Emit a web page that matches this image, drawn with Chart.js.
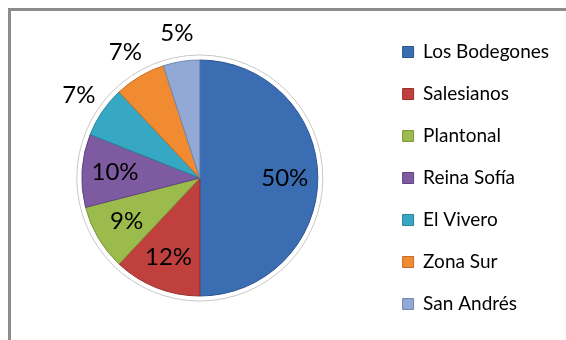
<!DOCTYPE html>
<html>
<head>
<meta charset="utf-8">
<script src="https://cdn.jsdelivr.net/npm/chart.js@4.4.1/dist/chart.umd.min.js"></script>
<style>
  html, body { margin: 0; padding: 0; background: #fff; }
  #wrap { position: relative; width: 566px; height: 340px; overflow: hidden; }
  #frame { position: absolute; left: 8px; top: 8px; width: 600px; height: 400px;
           border-top: 3px solid #8c8c8c; border-left: 3px solid #8c8c8c; }
  #mycanvas { position: absolute; left: 0; top: 0; }
</style>
</head>
<body>
<div id="wrap">
  <div id="frame"></div>
  <canvas id="mycanvas" width="566" height="340"></canvas>
</div>
<script>
var barrios = ['Los Bodegones', 'Salesianos', 'Plantonal', 'Reina Sofía', 'El Vivero', 'Zona Sur', 'San Andrés'];
var porcentajes = [50, 12, 9, 10, 7, 7, 5];
var colores = ['#3b6db3', '#c0403d', '#9bbb4c', '#7e5ba0', '#36a8c4', '#f08b32', '#92a9d5'];
var bordes = ['#2c5590', '#97302e', '#7a953a', '#5f4480', '#2a8399', '#c46d24', '#6f87b3'];

// thin grey ring round the pie
var anillo = {
  id: 'anillo',
  beforeDatasetsDraw: function(chart) {
    var arc = chart.getDatasetMeta(0).data[0];
    if (!arc) return;
    var ctx = chart.ctx;
    ctx.save();
    ctx.beginPath();
    ctx.arc(arc.x, arc.y, arc.outerRadius + 5, 0, Math.PI * 2);
    ctx.strokeStyle = '#c8c8c8';
    ctx.lineWidth = 1;
    ctx.stroke();
    ctx.restore();
  }
};

// percentage labels, inside big slices, outside small ones
var etiquetas = {
  id: 'etiquetas',
  afterDatasetsDraw: function(chart) {
    var ctx = chart.ctx;
    var meta = chart.getDatasetMeta(0);
    ctx.save();
    ctx.font = '24px Lato';
    ctx.fillStyle = '#000';
    ctx.textAlign = 'center';
    ctx.textBaseline = 'middle';
    meta.data.forEach(function(arc, i) {
      var mid = (arc.startAngle + arc.endAngle) / 2;
      var f = porcentajes[i] >= 9 ? 0.72 : 1.24;
      var x = arc.x + Math.cos(mid) * arc.outerRadius * f;
      var y = arc.y + Math.sin(mid) * arc.outerRadius * f;
      ctx.fillText(porcentajes[i] + '%', x, y);
    });
    ctx.restore();
  }
};

var chartdata = {
  labels: barrios,
  datasets: [{
    data: porcentajes,
    radius: 118,
    backgroundColor: function(c) {
      var chart = c.chart;
      var arc = chart.getDatasetMeta(0).data[c.dataIndex];
      if (!arc || !arc.outerRadius) return colores[c.dataIndex];
      var g = chart.ctx.createRadialGradient(arc.x, arc.y, 0, arc.x, arc.y, arc.outerRadius);
      g.addColorStop(0, colores[c.dataIndex]);
      g.addColorStop(0.88, colores[c.dataIndex]);
      g.addColorStop(1, bordes[c.dataIndex]);
      return g;
    },
    borderColor: bordes,
    borderWidth: 1
  }]
};

var ctx = document.getElementById('mycanvas');
var pieGraph = new Chart(ctx, {
  type: 'pie',
  data: chartdata,
  plugins: [anillo, etiquetas],
  options: {
    responsive: false,
    animation: false,
    layout: { padding: { left: 20, top: 16, bottom: 0, right: 7 } },
    plugins: {
      tooltip: { enabled: false },
      legend: {
        position: 'right',
        labels: {
          font: { family: 'Lato', size: 19 },
          color: '#000',
          boxWidth: 11,
          boxHeight: 11,
          padding: 23,
          generateLabels: function(chart) {
            return barrios.map(function(b, i) {
              return { text: b, fillStyle: colores[i], strokeStyle: bordes[i], lineWidth: 1, index: i };
            });
          }
        }
      }
    }
  }
});
</script>
</body>
</html>
